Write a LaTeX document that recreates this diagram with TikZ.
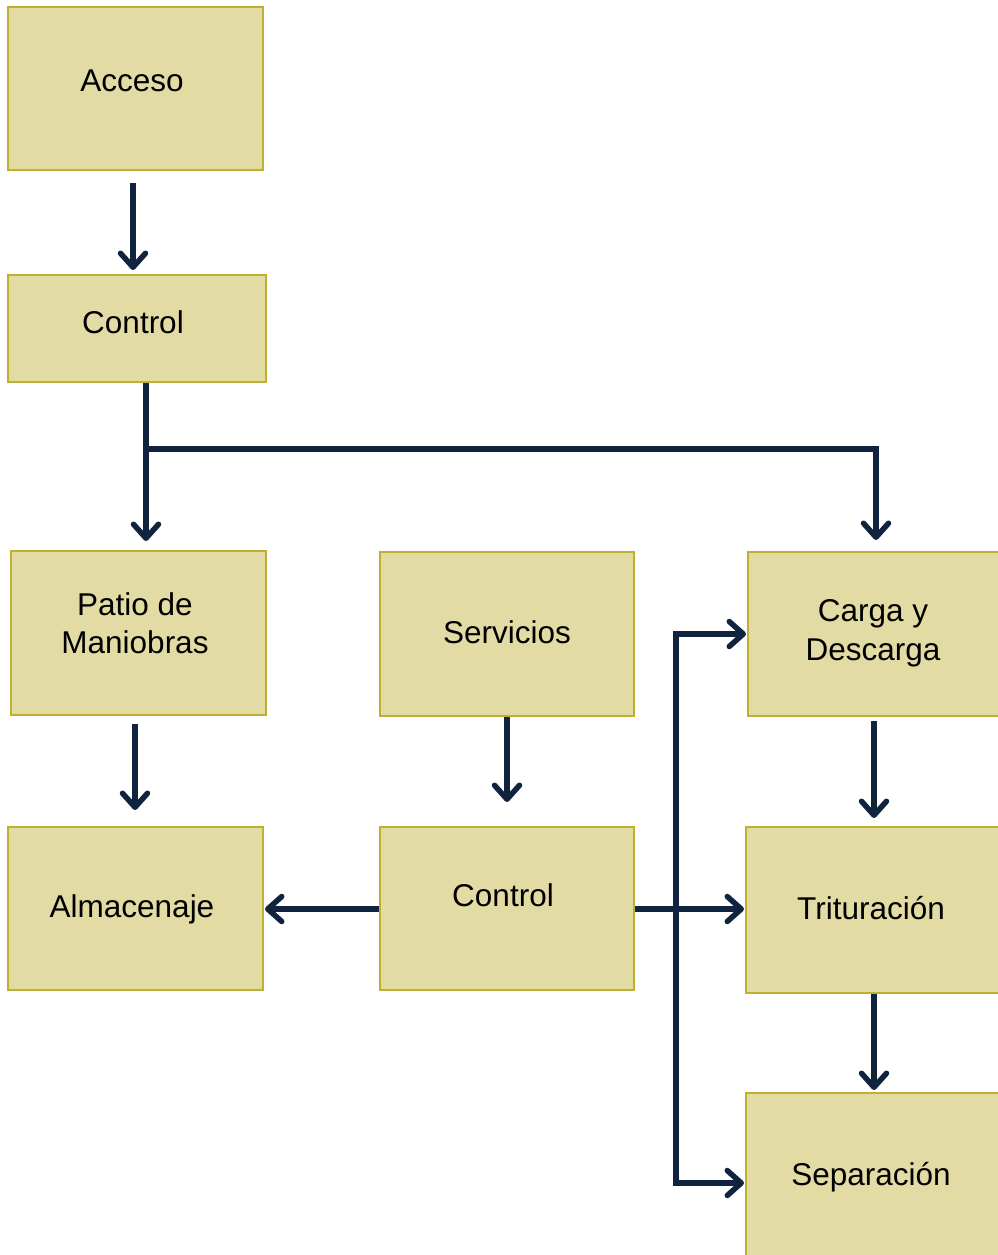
\documentclass[tikz,border=0pt]{standalone}
\usepackage{fontspec}
\setmainfont{Liberation Sans}
\usetikzlibrary{arrows.meta}
\definecolor{boxfill}{HTML}{E3DBA4}
\definecolor{boxedge}{HTML}{BFB030}
\definecolor{flow}{HTML}{10243F}
\tikzset{
  stage/.style={draw=boxedge, fill=boxfill, line width=2pt, inner sep=0pt},
  lbl/.style={font=\fontsize{31.5}{38}\selectfont, text=black, align=center, inner sep=0pt},
  flowline/.style={draw=flow, line width=5.5pt},
  flowarrow/.style={flowline, -{Straight Barb[length=14pt,width=25pt,line width=5.5pt,line cap=round,line join=round]}}
}
\begin{document}
\begin{tikzpicture}[x=1pt,y=-1pt]
\useasboundingbox (0,0) rectangle (998,1255);
% process stages
\node[stage, minimum width=255pt, minimum height=163pt] (acceso)   at (135.5,88.5) {};
\node[stage, minimum width=258pt, minimum height=107pt] (control1) at (137,328.5) {};
\node[stage, minimum width=255pt, minimum height=164pt] (patio)    at (138.5,633) {};
\node[stage, minimum width=254pt, minimum height=164pt] (serv)     at (507,634) {};
\node[stage, minimum width=255pt, minimum height=164pt] (carga)    at (875.5,634) {};
\node[stage, minimum width=255pt, minimum height=163pt] (alm)      at (135.5,908.5) {};
\node[stage, minimum width=254pt, minimum height=163pt] (control2) at (507,908.5) {};
\node[stage, minimum width=255pt, minimum height=166pt] (trit)     at (873.5,910) {};
\node[stage, minimum width=255pt, minimum height=163pt] (sep)      at (873.5,1174.5) {};
% labels
\node[lbl, anchor=base] (tacceso)   at (132,92)   {Acceso};
\node[lbl, anchor=base] (tcontrol1) at (133,333)  {Control};
\node[lbl]              (tpatio)    at (135,623)  {Patio de\\Maniobras};
\node[lbl, anchor=base] (tserv)     at (507,643)  {Servicios};
\node[lbl, font=\fontsize{31.5}{39}\selectfont] (tcarga) at (873,633) {Carga y\\Descarga};
\node[lbl, anchor=base] (talm)      at (132,917)  {Almacenaje};
\node[lbl, anchor=base] (tcontrol2) at (503,906)  {Control};
\node[lbl, anchor=base] (ttrit)     at (871,919)  {Trituración};
\node[lbl, anchor=base] (tsep)      at (871,1185) {Separación};
% junction points
\coordinate (split)  at (146,449);
\coordinate (splitR) at (876,449);
\coordinate (busTop) at (676,634);
\coordinate (busBot) at (676,1183);
% connectors (yshift is in page direction: negative goes down)
\draw[flowarrow] ([yshift=-12pt]acceso.south -| 133,0) -- ([yshift=4pt]control1.north -| 133,0);
\draw[flowarrow] (control1.south -| split) -- ([yshift=9pt]patio.north -| split);
\draw[flowline] (split) -- ([xshift=2.75pt]splitR);
\draw[flowarrow] (splitR) -- ([yshift=11pt]carga.north -| splitR);
\draw[flowarrow] ([yshift=-8pt]patio.south -| 135,0) -- ([yshift=16pt]alm.north -| 135,0);
\draw[flowarrow] (serv.south) -- ([yshift=24pt]control2.north);
\draw[flowarrow] (control2.west |- 0,909) -- ([xshift=1pt]alm.east |- 0,909);
\draw[flowarrow] (control2.east |- 0,909) -- ([xshift=-1pt]trit.west |- 0,909);
\draw[flowline] ([yshift=2.75pt]busTop) -- ([yshift=-2.75pt]busBot);
\draw[flowarrow] (busTop) -- ([xshift=-1pt]carga.west |- busTop);
\draw[flowarrow] (busBot) -- ([xshift=-1pt]sep.west |- busBot);
\draw[flowarrow] ([yshift=-4pt]carga.south -| 874,0) -- ([yshift=8pt]trit.north -| 874,0);
\draw[flowarrow] (trit.south -| 874,0) -- ([yshift=2pt]sep.north -| 874,0);
\end{tikzpicture}
\end{document}
